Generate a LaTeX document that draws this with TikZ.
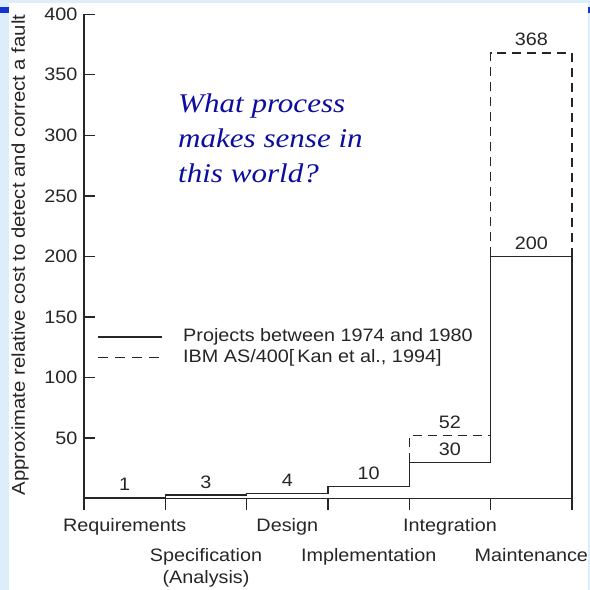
\documentclass[tikz,border=0pt]{standalone}
\usepackage{fontspec}
\setmainfont{Liberation Sans}[FakeStretch=1.1]
\newfontfamily\quotefont{Liberation Serif}[FakeStretch=1.15]
\definecolor{panelblue}{HTML}{DDEEFB}
\definecolor{barblue}{HTML}{1233D2}
\definecolor{quoteblue}{HTML}{0D0D9E}
\definecolor{ink}{HTML}{262626}
\begin{document}
\begin{tikzpicture}[x=1pt,y=-1pt,
  axisline/.style={line width=1.4pt, draw=ink},
  solidstep/.style={line width=1.3pt, draw=ink},
  dashstep/.style={line width=1.3pt, draw=ink, dash pattern=on 9pt off 6pt},
  lbl/.style={font=\fontsize{18}{21.5}\selectfont, text=ink, inner sep=0pt},
  vallbl/.style={lbl, anchor=base},
  quote/.style={font=\quotefont\itshape\fontsize{27}{35}\selectfont, text=quoteblue,
                inner sep=0pt, align=left, anchor=base west}]
\useasboundingbox (0,0) rectangle (590,590);
% page background and white panel
\fill[panelblue] (0,0) rectangle (590,590);
\fill[white] (9,3) rectangle (588,590);
\fill[barblue] (0,7) rectangle (9,13);
\fill[barblue] (588,7) rectangle (590,13);

% phase boundaries on the x axis
\foreach \i in {0,...,6} \coordinate (b\i) at ({84+81.33*\i},498.6);

% axes
\draw[axisline] (84,14.2) -- (b0) -- (b6);
\foreach \v in {50,100,...,400}
  \draw[axisline] (84,{498.6-1.211*\v}) -- (95,{498.6-1.211*\v})
    node[lbl, anchor=east] at (78,{498.6-1.211*\v}) {\v};
\foreach \i in {0,...,6}
  \draw[axisline] (b\i) -- ++(0,11);

% axis title
\node[lbl, font=\fontsize{18.5}{22}\selectfont, rotate=90] (ytitle) at (20,255)
  {Approximate relative cost to detect and correct a fault};

% cost curves
\draw[solidstep] (84,497.4) -- (165.3,497.4) -- (165.3,495) -- (246.7,495)
  -- (246.7,493.8) -- (328,493.8) -- (328,486.5) -- (409.3,486.5)
  -- (409.3,462.3) -- (490.7,462.3) -- (490.7,256.4) -- (572,256.4) -- (572,498.6);
\draw[dashstep] (409.3,462.3) -- (409.3,435.6) -- (490.7,435.6);
\draw[dashstep] (490.7,256.4) -- (490.7,52.9) -- (572,52.9) -- (572,256.4);

% values per phase
\node[vallbl] (v1) at (124.7,490.4) {1};
\node[vallbl] (v3) at (206,488) {3};
\node[vallbl] (v4) at (287.3,486.8) {4};
\node[vallbl] (v10) at (368.7,479.5) {10};
\node[vallbl] (v30) at (450,455.3) {30};
\node[vallbl] (v52) at (450,428.6) {52};
\node[vallbl] (v200) at (531.3,249.4) {200};
\node[vallbl] (v368) at (531.3,45.9) {368};

% phase names
\node[vallbl] (req) at (124.7,531.7) {Requirements};
\node[vallbl] (spec) at (206,561.5) {Specification};
\node[vallbl] (ana) at (206,583) {(Analysis)};
\node[vallbl] (des) at (287.3,531.7) {Design};
\node[vallbl] (impl) at (368.7,561.5) {Implementation};
\node[vallbl] (integ) at (450,531.7) {Integration};
\node[vallbl] (maint) at (531.3,561.5) {Maintenance};

% legend
\draw[solidstep] (98,337) -- (162,337);
\node[lbl, anchor=west] (leg1) at (183,337) {Projects between 1974 and 1980};
\draw[dashstep, dash pattern=on 10pt off 7pt] (98,357.5) -- (162,357.5);
\node[lbl, anchor=west] (leg2) at (183,357.5) {IBM AS/400[\,Kan et al., 1994]};

% question (anchored on the baseline of its last line)
\node[quote] (q) at (178,182.5) {What process\\makes sense in\\this world?};
\end{tikzpicture}
\end{document}
